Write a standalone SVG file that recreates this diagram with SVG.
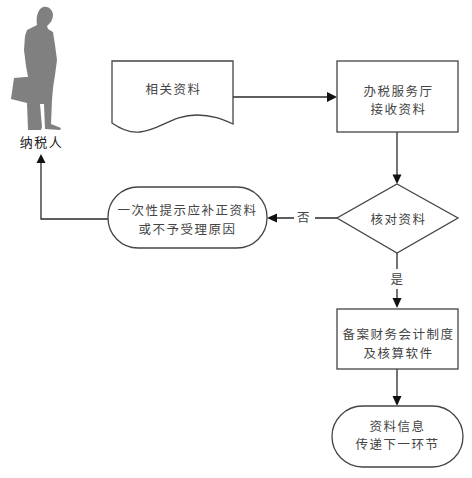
<svg xmlns="http://www.w3.org/2000/svg" width="472" height="478" viewBox="0 0 472 478">
<style>
.s{fill:#fff;stroke:#444;stroke-width:1.3}
.c{fill:none;stroke:#2a2a2a;stroke-width:1.3}
.a{fill:#111;stroke:none}
text{font-family:"Noto Sans CJK SC","Liberation Serif",serif;font-size:12.5px;letter-spacing:1.5px;fill:#444;text-anchor:middle}
</style>
<rect width="472" height="478" fill="#fff"/>
<g id="connectors">
<path class="c" d="M233 97H330"/><path class="a" d="M337 97L327 92V102Z"/>
<path class="c" d="M397 132V178"/><path class="a" d="M397 184L392.500 174.500H401.500Z"/>
<path class="c" d="M337 218H315M294 218H275"/><path class="a" d="M267 218L277 213.500V222.500Z"/>
<path class="c" d="M108 219H41V162"/><path class="a" d="M41 154L36.500 163H45.500Z"/>
<path class="c" d="M397 253V269M397 289V303"/><path class="a" d="M397 308L392.500 298H401.500Z"/>
<path class="c" d="M397 369V399"/><path class="a" d="M397 406L392.500 396H401.500Z"/>
</g>
<g id="taxpayer">
<path fill="#808080" d="M43 7C49 6 52 10 53 14C53 17 52 21 50 23L47 26L48 29L53 32L55 45L57 60L55 75L53 88L52 100L51 124L61 128L60 130L45 129L44 104L40 104L42 127L41 130L28 130L27 103L11 99L14 78L25 77L28 77L26 66L24 50L25 36L27 30L37 25C36 18 37 10 43 7Z"/>
<text x="41.500" y="147" style="font-size:13px;fill:#1a1a1a">纳税人</text>
</g>
<g id="related-docs">
<path class="s" d="M112 61H233V124C222 119 212 115 197 115C172 115 160 130 140 132C132 133 122 130 112 123Z"/>
<text x="173.500" y="94">相关资料</text>
</g>
<g id="hall">
<rect class="s" x="337" y="61" width="121" height="71"/>
<text x="398.500" y="96">办税服务厅</text>
<text x="398.500" y="114">接收资料</text>
</g>
<g id="check">
<path class="s" d="M397 184L458 218L397 253L337 218Z"/>
<text x="398.500" y="224">核对资料</text>
</g>
<g id="no-label"><text x="304" y="222">否</text></g>
<g id="yes-label"><text x="397.500" y="284">是</text></g>
<g id="correction">
<rect class="s" x="108" y="187" width="159" height="61" rx="30" ry="30"/>
<text x="187.500" y="215">一次性提示应补正资料</text>
<text x="187.500" y="233.500">或不予受理原因</text>
</g>
<g id="filing">
<rect class="s" x="337" y="309" width="121" height="60"/>
<text x="398.500" y="339">备案财务会计制度</text>
<text x="398.500" y="357.500">及核算软件</text>
</g>
<g id="transfer">
<rect class="s" x="332" y="406" width="131" height="61" rx="30.500" ry="30.500"/>
<text x="397.500" y="430.500">资料信息</text>
<text x="397.500" y="449">传递下一环节</text>
</g>
</svg>
